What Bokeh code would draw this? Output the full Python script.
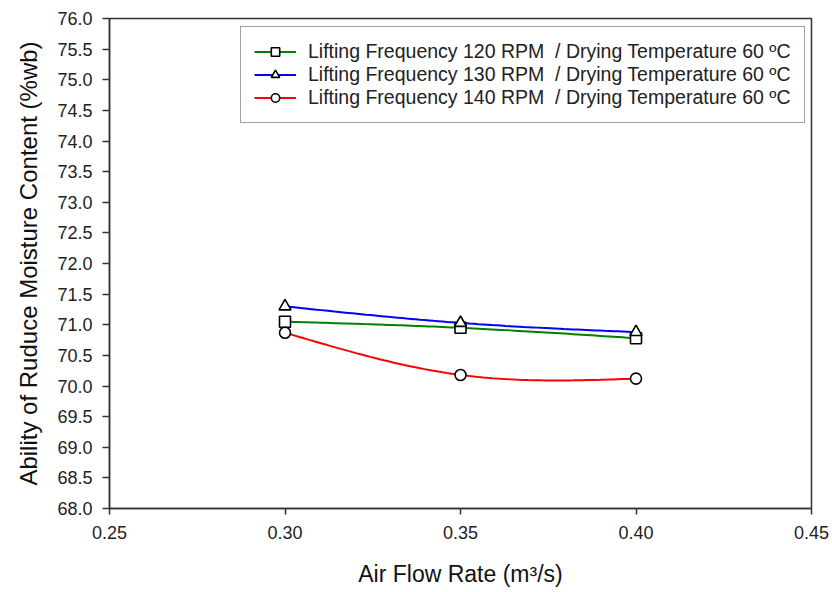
import numpy as np
from bokeh.plotting import figure
from bokeh.models import Legend, LegendItem, FixedTicker, Range1d, PrintfTickFormatter
from bokeh.embed import file_html
from bokeh.resources import INLINE

# ---- data ----
air_flow = [0.30, 0.35, 0.40]
rpm120 = [71.05, 70.95, 70.78]
rpm130 = [71.30, 71.03, 70.88]
rpm140 = [70.87, 70.18, 70.12]
series_labels = [
    "Lifting Frequency 120 RPM  / Drying Temperature 60 \u00baC",
    "Lifting Frequency 130 RPM  / Drying Temperature 60 \u00baC",
    "Lifting Frequency 140 RPM  / Drying Temperature 60 \u00baC",
]
x_ticks = [0.25, 0.30, 0.35, 0.40, 0.45]
y_ticks = [68.0, 68.5, 69.0, 69.5, 70.0, 70.5, 71.0, 71.5, 72.0,
           72.5, 73.0, 73.5, 74.0, 74.5, 75.0, 75.5, 76.0]


def natural_spline(xs, ys, n=40):
    """Smooth drawing path through the data points (natural cubic spline)."""
    xs = np.asarray(xs, float)
    ys = np.asarray(ys, float)
    k = len(xs)
    h = np.diff(xs)
    A = np.zeros((k, k))
    b = np.zeros(k)
    A[0, 0] = 1
    A[-1, -1] = 1
    for i in range(1, k - 1):
        A[i, i - 1] = h[i - 1]
        A[i, i] = 2 * (h[i - 1] + h[i])
        A[i, i + 1] = h[i]
        b[i] = 6 * ((ys[i + 1] - ys[i]) / h[i] - (ys[i] - ys[i - 1]) / h[i - 1])
    M = np.linalg.solve(A, b)
    px, py = [], []
    for i in range(k - 1):
        t = np.linspace(xs[i], xs[i + 1], n)
        a = xs[i + 1] - t
        c = t - xs[i]
        s = (M[i] * a ** 3 / (6 * h[i]) + M[i + 1] * c ** 3 / (6 * h[i])
             + (ys[i] / h[i] - M[i] * h[i] / 6) * a
             + (ys[i + 1] / h[i] - M[i + 1] * h[i] / 6) * c)
        px.extend(t.tolist())
        py.extend(s.tolist())
    return px, py


FONT = "Liberation Sans"
p = figure(width=832, height=592, output_backend="svg", toolbar_location=None,
           x_range=Range1d(0.25, 0.45), y_range=Range1d(68.0, 76.0),
           min_border_left=109, min_border_right=21, min_border_top=18,
           min_border_bottom=84)
p.xgrid.visible = False
p.ygrid.visible = False
p.outline_line_color = "#333333"
p.outline_line_width = 1.5
p.background_fill_color = "white"
p.border_fill_color = "white"

for ax in (p.xaxis[0], p.yaxis[0]):
    ax.axis_line_color = "#333333"
    ax.axis_line_width = 1.5
    ax.major_tick_line_color = "#333333"
    ax.major_tick_line_width = 1.5
    ax.minor_tick_line_color = None
    ax.major_tick_in = 0
    ax.major_label_text_font = FONT
    ax.major_label_text_font_size = "18px"
    ax.major_label_text_color = "#222222"
    ax.axis_label_text_font = FONT
    ax.axis_label_text_font_style = "normal"
    ax.axis_label_text_color = "#111111"

p.xaxis.axis_label_text_font_size = "23px"
p.yaxis.axis_label_text_font_size = "24px"
p.xaxis.ticker = FixedTicker(ticks=x_ticks)
p.yaxis.ticker = FixedTicker(ticks=y_ticks)
p.xaxis.formatter = PrintfTickFormatter(format="%.2f")
p.yaxis.formatter = PrintfTickFormatter(format="%.1f")
p.xaxis.major_tick_out = 6
p.yaxis.major_tick_out = 7
p.xaxis.major_label_standoff = 11
p.yaxis.major_label_standoff = 10
p.xaxis.axis_label = "Air Flow Rate (m\u00b3/s)"
p.yaxis.axis_label = "Ability of Ruduce Moisture Content (%wb)"
p.xaxis.axis_label_standoff = 19
p.yaxis.axis_label_standoff = 12

colors = ["#008000", "#0000FF", "#FF0000"]
markers = ["square", "triangle", "circle"]
sizes = [11, 12, 11]
items = []
for ys, col, mk, sz, lab in zip([rpm120, rpm130, rpm140], colors, markers, sizes, series_labels):
    sx, sy = natural_spline(air_flow, ys)
    ln = p.line(sx, sy, line_color=col, line_width=2)
    sc = p.scatter(air_flow, ys, marker=mk, size=sz, fill_color="white",
                   line_color="black", line_width=1.6)
    items.append(LegendItem(label=lab, renderers=[ln, sc]))

legend = Legend(items=items, location=(131, 385))
legend.label_text_font = FONT
legend.label_text_font_size = "19.5px"
legend.label_text_color = "#222222"
legend.label_height = 21
legend.glyph_height = 21
legend.glyph_width = 42
legend.label_standoff = 12
legend.spacing = 0
legend.padding = 13
legend.margin = 0
legend.border_line_color = "#444444"
legend.border_line_width = 1.5
legend.background_fill_alpha = 1.0
p.add_layout(legend, "center")

open("out.html", "w").write(file_html(p, INLINE))
